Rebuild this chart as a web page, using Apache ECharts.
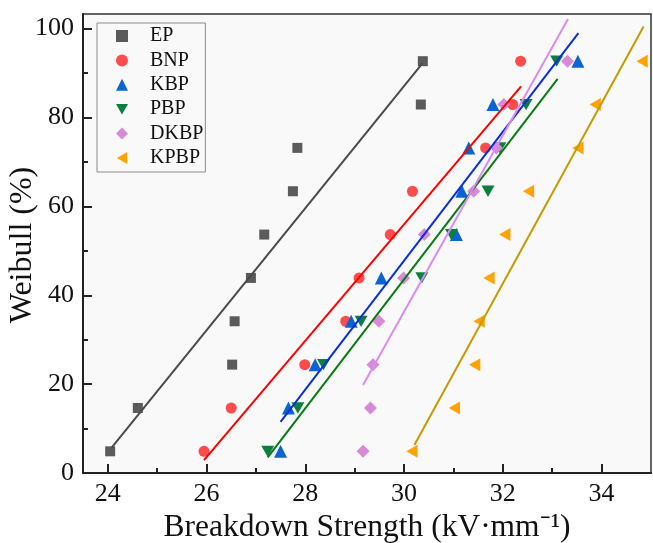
<!DOCTYPE html>
<html><head><meta charset="utf-8">
<script src="https://cdn.jsdelivr.net/npm/echarts@6/dist/echarts.min.js"></script>
<style>html,body{margin:0;padding:0;background:#fff}#c{width:653px;height:543px}</style>
</head><body><div id="c"></div>
<script>
// Weibull probability levels (%)
const weibullY = [4.88, 14.63, 24.39, 34.15, 43.90, 53.66, 63.41, 73.17, 82.93, 92.68];
// Breakdown strengths (kV/mm)
const EP   = [24.05, 24.61, 26.52, 26.57, 26.90, 27.17, 27.75, 27.84, 30.34, 30.38];
const BNP  = [25.95, 26.50, 27.99, 28.82, 29.09, 29.72, 30.17, 31.65, 32.20, 32.36];
const KBP  = [27.50, 27.66, 28.20, 28.93, 29.54, 31.06, 31.17, 31.31, 31.80, 33.52];
const PBP  = [27.24, 27.85, 28.37, 29.13, 30.36, 30.96, 31.70, 31.94, 32.47, 33.09];
const DKBP = [29.17, 29.32, 29.37, 29.49, 29.99, 30.41, 31.41, 31.87, 32.02, 33.31];
const KPBP = [30.16, 31.02, 31.43, 31.52, 31.72, 32.04, 32.52, 33.52, 33.87, 34.82];
// Fit line endpoints [[x0,y0],[x1,y1]]
const EPfit   = [[24.08, 5.7], [30.38, 92.3]];
const BNPfit  = [[25.95, 2.9], [32.37, 87.0]];
const KBPfit  = [[27.50, 11.5], [33.53, 99.0]];
const PBPfit  = [[27.24, 3.5], [33.11, 88.7]];
const DKBPfit = [[29.17, 19.8], [33.32, 102.2]];
const KPBPfit = [[30.21, 6.3], [34.85, 100.5]];

const xMajor = [24, 26, 28, 30, 32, 34];
const xMinor = [25, 27, 29, 31, 33];
const yMajor = [0, 20, 40, 60, 80, 100];
const yMinor = [10, 30, 50, 70, 90];

const names = ['EP', 'BNP', 'KBP', 'PBP', 'DKBP', 'KPBP'];
const xs = [EP, BNP, KBP, PBP, DKBP, KPBP];
const fits = [EPfit, BNPfit, KBPfit, PBPfit, DKBPfit, KPBPfit];
const markerColors = ['#5b5b5b', '#ff4b4b', '#0a64d2', '#0b7f3f', '#d68ad8', '#ffa300'];
const lineColors = ['#4a4a4a', '#ff0000', '#0a2ed8', '#0a7a12', '#d88cf0', '#c49b00'];
const symbolsFix = ['rect', 'circle', 'triangle', 'path://M0,0L12,0L6,10.4Z', 'diamond', 'path://M10.4,0L10.4,12L0,6Z'];
const sizes = [10, 11, 13, 13, 13, 13];

const FONT = '"Liberation Serif", "Times New Roman", serif';
const series = [];
names.forEach((n, i) => {
  series.push({
    name: n, type: 'scatter', symbol: symbolsFix[i], symbolSize: sizes[i], symbolKeepAspect: true,
    itemStyle: {color: markerColors[i], opacity: 1}, z: 3,
    data: xs[i].map((x, k) => [x, weibullY[k]])
  });
});
names.forEach((n, i) => {
  series.push({
    name: n + ' fit', type: 'line', showSymbol: false, silent: true, z: 4,
    lineStyle: {color: lineColors[i], width: 2},
    data: fits[i]
  });
});

const chart = echarts.init(document.getElementById('c'), null, {renderer: 'canvas'});
chart.setOption({
  animation: false,
  backgroundColor: '#ffffff',
  grid: {left: 83, right: 2, top: 14, bottom: 70, show: true, backgroundColor: '#f9f9f9', borderColor: '#333', borderWidth: 1.5, containLabel: false, outerBoundsMode: 'none'},
  legend: {
    data: names.map((n, i) => ({name: n, icon: symbolsFix[i]})),
    orient: 'vertical', left: 97, top: 23,
    itemWidth: 12, itemHeight: 12, itemGap: 4.4, symbolKeepAspect: true,
    padding: [3, 2, 4, 19], borderColor: '#8a8a8a', borderWidth: 1, backgroundColor: '#f9f9f9',
    textStyle: {fontFamily: FONT, fontSize: 20, color: '#111', padding: [0, 0, 0, 17]}
  },
  graphic: [{
    type: 'text', x: 23, y: 245, rotation: Math.PI / 2,
    style: {text: 'Weibull (%)', fontFamily: FONT, fontSize: 32, fill: '#111', align: 'center', verticalAlign: 'middle'}
  }],
  xAxis: [{
    type: 'value', min: 23.5, max: 35,
    splitLine: {show: false},
    axisLine: {show: true, onZero: false, lineStyle: {color: '#222', width: 2}},
    axisTick: {show: true, inside: true, length: 9, customValues: xMajor, lineStyle: {color: '#222', width: 2}},
    axisLabel: {customValues: xMajor, fontFamily: FONT, fontSize: 26, color: '#111', margin: 8},
    name: 'Breakdown Strength (kV·mm⁻¹)', nameLocation: 'middle', nameGap: 37,
    nameTextStyle: {fontFamily: FONT, fontSize: 31.5, color: '#111'}
  }, {
    type: 'value', min: 23.5, max: 35, position: 'bottom',
    splitLine: {show: false},
    axisLine: {show: false},
    axisTick: {show: true, inside: true, length: 5, customValues: xMinor, lineStyle: {color: '#222', width: 2}},
    axisLabel: {show: false}
  }],
  yAxis: [{
    type: 'value', min: 0, max: 103.3,
    splitLine: {show: false},
    axisLine: {show: true, onZero: false, lineStyle: {color: '#222', width: 2}},
    axisTick: {show: true, inside: true, length: 9, customValues: yMajor, lineStyle: {color: '#222', width: 2}},
    axisLabel: {customValues: yMajor, fontFamily: FONT, fontSize: 26, color: '#111', margin: 9}
  }, {
    type: 'value', min: 0, max: 103.3, position: 'left',
    splitLine: {show: false},
    axisLine: {show: false},
    axisTick: {show: true, inside: true, length: 5, customValues: yMinor, lineStyle: {color: '#222', width: 2}},
    axisLabel: {show: false}
  }],
  series: series
});
</script></body></html>
